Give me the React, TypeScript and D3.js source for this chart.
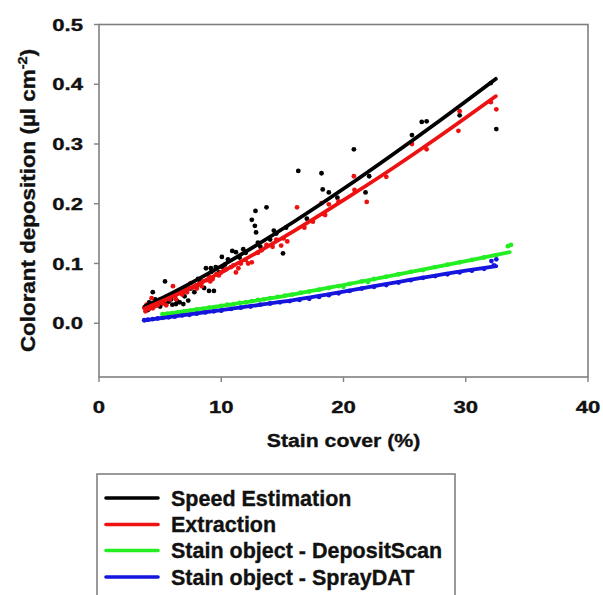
import React from "react";
import * as d3 from "d3";

// ---- data ----
const seriesNames = [
  "Speed Estimation",
  "Extraction",
  "Stain object - DepositScan",
  "Stain object - SprayDAT",
];
const seriesColors = ["#000000", "#ee1111", "#22ee22", "#1515dd"];

const xTicks = [0, 10, 20, 30, 40];
const yTicks = [0.0, 0.1, 0.2, 0.3, 0.4, 0.5];

// Speed Estimation scatter
const speedX = [3.8, 3.9, 4.0, 4.2, 4.4, 4.5, 4.7, 4.9, 5.0, 5.2, 5.4, 5.5, 5.7, 5.9, 6.0, 6.2, 6.4, 6.6, 6.8, 6.9, 7.2, 7.5, 7.8, 8.0, 8.3, 8.6, 8.75, 9.0, 9.15, 9.4, 9.55, 9.8, 10.05, 10.3, 10.55, 10.9, 11.2, 11.5, 12.0, 12.5, 12.75, 12.8, 12.85, 13.2, 13.7, 14.0, 14.5, 15.05, 15.3, 16.3, 17.0, 18.2, 18.3, 18.8, 19.5, 20.85, 21.8, 22.1, 25.6, 26.4, 26.8, 29.5, 32.05, 32.5, 4.1, 4.6, 5.3, 6.3, 7.0, 7.3, 8.1, 9.2, 10.1, 11.8, 13.0, 14.3];
const speedY = [0.025, 0.03, 0.022, 0.028, 0.052, 0.033, 0.03, 0.036, 0.028, 0.038, 0.07, 0.033, 0.036, 0.04, 0.031, 0.045, 0.037, 0.035, 0.05, 0.032, 0.055, 0.058, 0.052, 0.063, 0.07, 0.059, 0.092, 0.054, 0.092, 0.054, 0.094, 0.085, 0.111, 0.098, 0.107, 0.121, 0.119, 0.11, 0.118, 0.173, 0.163, 0.188, 0.152, 0.128, 0.194, 0.14, 0.15, 0.117, 0.16, 0.255, 0.175, 0.251, 0.224, 0.219, 0.21, 0.291, 0.219, 0.246, 0.315, 0.337, 0.338, 0.348, 0.402, 0.325, 0.035, 0.04, 0.034, 0.032, 0.045, 0.038, 0.074, 0.086, 0.094, 0.124, 0.135, 0.155];

// Extraction scatter
const extrX = [3.7, 3.8, 3.9, 4.1, 4.3, 4.5, 4.6, 4.8, 5.0, 5.2, 5.4, 5.6, 5.8, 6.05, 6.2, 6.5, 6.8, 7.0, 7.2, 7.5, 7.7, 8.0, 8.2, 8.5, 8.8, 9.0, 9.3, 9.6, 10.0, 10.4, 10.8, 11.2, 11.6, 12.0, 12.5, 13.0, 13.7, 14.2, 14.9, 15.4, 16.2, 16.8, 17.5, 18.2, 18.4, 18.5, 18.8, 19.6, 20.85, 20.9, 21.9, 23.5, 25.6, 26.8, 29.4, 29.5, 32.05, 32.5, 4.0, 4.4, 5.1, 5.5, 6.3, 6.7, 7.3, 7.9, 8.4, 9.1, 9.8, 10.2, 11.0, 11.4, 12.2, 13.3, 14.5, 15.1];
const extrY = [0.026, 0.02, 0.031, 0.024, 0.042, 0.028, 0.035, 0.03, 0.04, 0.033, 0.038, 0.045, 0.04, 0.062, 0.046, 0.05, 0.048, 0.055, 0.052, 0.067, 0.06, 0.058, 0.066, 0.07, 0.072, 0.078, 0.074, 0.082, 0.085, 0.09, 0.094, 0.085, 0.1, 0.106, 0.102, 0.118, 0.131, 0.128, 0.13, 0.137, 0.194, 0.16, 0.17, 0.201, 0.183, 0.181, 0.199, 0.204, 0.246, 0.223, 0.203, 0.245, 0.3, 0.291, 0.322, 0.355, 0.37, 0.358, 0.03, 0.025, 0.036, 0.03, 0.04, 0.055, 0.06, 0.063, 0.062, 0.07, 0.08, 0.088, 0.097, 0.092, 0.1, 0.122, 0.14, 0.142];

// DepositScan scatter
const depX = [5.2, 5.6, 6.0, 6.5, 7.0, 7.5, 8.0, 8.5, 9.0, 9.5, 10.0, 10.5, 11.0, 11.5, 12.0, 12.5, 13.0, 13.5, 14.0, 14.6, 15.2, 15.8, 16.5, 17.2, 18.0, 18.8, 19.6, 20.0, 20.5, 21.5, 22.0, 22.5, 23.5, 24.5, 25.5, 26.5, 27.5, 28.5, 29.5, 30.5, 31.5, 32.5, 33.45, 33.7];
const depY = [0.015, 0.016, 0.017, 0.018, 0.02, 0.021, 0.023, 0.024, 0.026, 0.027, 0.029, 0.031, 0.032, 0.034, 0.035, 0.037, 0.039, 0.04, 0.042, 0.044, 0.046, 0.048, 0.051, 0.053, 0.056, 0.059, 0.062, 0.061, 0.066, 0.07, 0.069, 0.074, 0.078, 0.082, 0.086, 0.089, 0.094, 0.098, 0.102, 0.106, 0.11, 0.114, 0.129, 0.131];

// SprayDAT scatter
const sprayX = [3.7, 4.0, 4.4, 4.8, 5.2, 5.7, 6.2, 6.8, 7.4, 8.0, 8.7, 9.4, 10.0, 10.8, 11.6, 12.4, 13.2, 14.0, 14.8, 15.6, 16.4, 17.2, 18.0, 18.8, 19.6, 20.5, 21.5, 22.5, 23.5, 24.5, 25.5, 26.5, 27.5, 28.5, 29.5, 30.5, 31.5, 32.1, 32.3, 32.5];
const sprayY = [0.005, 0.006, 0.007, 0.008, 0.009, 0.01, 0.011, 0.013, 0.014, 0.016, 0.018, 0.02, 0.021, 0.024, 0.026, 0.028, 0.031, 0.033, 0.035, 0.037, 0.039, 0.041, 0.044, 0.047, 0.05, 0.054, 0.058, 0.061, 0.064, 0.068, 0.072, 0.076, 0.079, 0.082, 0.085, 0.088, 0.091, 0.104, 0.097, 0.107];

// fitted curves
const speedFitX = [3.76, 6, 8, 10, 12, 16, 20, 24, 28, 32.46];
const speedFitY = [0.0285, 0.0508, 0.0725, 0.0955, 0.1197, 0.1707, 0.225, 0.282, 0.341, 0.409];
const extrFitX = [3.8, 6, 8, 10, 12, 16, 20, 24, 28, 32.46];
const extrFitY = [0.025, 0.0446, 0.064, 0.0854, 0.1076, 0.155, 0.206, 0.259, 0.315, 0.38];
const depFitX = [5.2, 10, 15, 20, 25, 30, 33.6];
const depFitY = [0.015, 0.029, 0.045, 0.064, 0.084, 0.104, 0.119];
const sprayFitX = [3.76, 10, 15, 20, 25, 30, 32.5];
const sprayFitY = [0.005, 0.022, 0.036, 0.053, 0.071, 0.088, 0.0955];

const FONT = "'Liberation Sans', Arial, Helvetica, sans-serif";
const AXIS = "#808080";
const TXT = "#111";

export default function App() {
  const W = 603;
  const H = 595;
  const left = 99,
    right = 588,
    top = 24.5,
    bottom = 377;
  const x = d3.scaleLinear().domain([0, 40]).range([left, right]);
  const y = d3.scaleLinear().domain([-0.09, 0.5]).range([bottom, top]);

  const scatters = [
    { xs: speedX, ys: speedY },
    { xs: extrX, ys: extrY },
    { xs: depX, ys: depY },
    { xs: sprayX, ys: sprayY },
  ];
  const fits = [
    { xs: speedFitX, ys: speedFitY },
    { xs: extrFitX, ys: extrFitY },
    { xs: depFitX, ys: depFitY },
    { xs: sprayFitX, ys: sprayFitY },
  ];
  const line = d3
    .line<[number, number]>()
    .x((d) => x(d[0]))
    .y((d) => y(d[1]))
    .curve(d3.curveMonotoneX);

  const legendRowY = [498, 524.5, 550.5, 577];
  const txtStroke = { stroke: TXT, strokeWidth: 0.35 };

  return (
    <svg
      width={W}
      height={H}
      style={{ position: "absolute", left: 0, top: 0, background: "#fff" }}
      fontFamily={FONT}
      fontWeight="bold"
    >
      <rect x={0} y={0} width={W} height={H} fill="#fff" />
      {/* frame */}
      <rect
        x={left}
        y={top}
        width={right - left}
        height={bottom - top}
        fill="none"
        stroke={AXIS}
        strokeWidth={1.6}
      />
      {/* y ticks */}
      {yTicks.map((t) => (
        <g key={"yt" + t}>
          <line x1={left - 5} x2={left} y1={y(t)} y2={y(t)} stroke={AXIS} strokeWidth={1.4} />
          <text
            transform={`translate(${83},${y(t) + 6.2}) scale(1.28,1)`}
            textAnchor="end"
            fontSize={17.3}
            fill={TXT}
            {...txtStroke}
          >
            {d3.format(".1f")(t)}
          </text>
        </g>
      ))}
      {/* x ticks */}
      {xTicks.map((t) => (
        <g key={"xt" + t}>
          <line x1={x(t)} x2={x(t)} y1={bottom} y2={bottom + 5} stroke={AXIS} strokeWidth={1.4} />
          <text
            transform={`translate(${x(t)},${413}) scale(1.28,1)`}
            textAnchor="middle"
            fontSize={17.3}
            fill={TXT}
            {...txtStroke}
          >
            {t}
          </text>
        </g>
      ))}
      {/* axis titles */}
      <text
        transform={`translate(${(left + right) / 2},447) scale(1.15,1)`}
        textAnchor="middle"
        fontSize={18.5}
        fill={TXT}
        {...txtStroke}
      >
        Stain cover (%)
      </text>
      <text
        transform={`translate(35,200.5) rotate(-90) scale(1.12,1)`}
        textAnchor="middle"
        fontSize={20}
        fill={TXT}
        {...txtStroke}
      >
        Colorant deposition (µl cm
        <tspan fontSize={13} dy={-8}>
          -2
        </tspan>
        <tspan dy={8}>)</tspan>
      </text>

      {/* scatter */}
      {scatters.map((s, i) => (
        <g key={"s" + i} fill={seriesColors[i]}>
          {s.xs.map((xv, j) => (
            <circle key={j} cx={x(xv)} cy={y(s.ys[j])} r={2.4} />
          ))}
        </g>
      ))}
      {/* fit lines */}
      {fits.map((f, i) => (
        <path
          key={"f" + i}
          d={line(f.xs.map((xv, j) => [xv, f.ys[j]] as [number, number])) || ""}
          fill="none"
          stroke={seriesColors[i]}
          strokeWidth={3.8}
          strokeLinecap="round"
        />
      ))}

      {/* legend */}
      <rect x={97} y={474} width={358} height={140} fill="#fff" stroke={AXIS} strokeWidth={1.6} />
      {seriesNames.map((n, i) => (
        <g key={"l" + i}>
          <line
            x1={106}
            x2={158}
            y1={legendRowY[i]}
            y2={legendRowY[i]}
            stroke={seriesColors[i]}
            strokeWidth={3.6}
            strokeLinecap="round"
          />
          <text x={171} y={legendRowY[i] + 7.5} fontSize={21.5} fill={TXT} {...txtStroke}>
            {n}
          </text>
        </g>
      ))}
    </svg>
  );
}
